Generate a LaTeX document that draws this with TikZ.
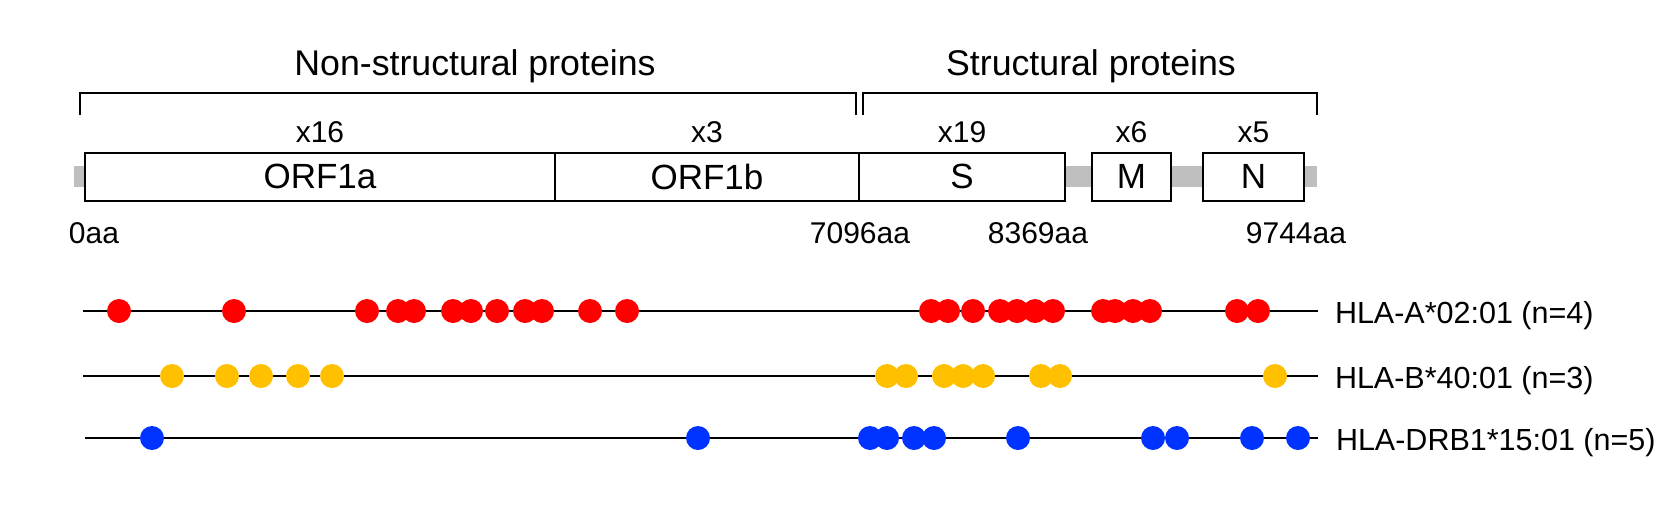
\documentclass[tikz,border=0pt]{standalone}
\usepackage{fontspec}
\setmainfont{Liberation Sans}
\definecolor{epired}{RGB}{255,0,0}
\definecolor{epiyellow}{RGB}{255,192,0}
\definecolor{epiblue}{RGB}{0,51,255}
\definecolor{backbone}{RGB}{191,191,191}

\begin{document}
\begin{tikzpicture}[x=1pt,y=-1pt,line width=2pt]
    \tikzstyle{gene}=[rectangle,draw,fill=white,inner sep=0pt,minimum height=48pt,font=\fontsize{35}{42}\selectfont]
    \tikzstyle{group}=[anchor=base,font=\fontsize{35.7}{42}\selectfont]
    \tikzstyle{count}=[anchor=base,font=\fontsize{30}{36}\selectfont]
    \tikzstyle{allele}=[anchor=base west,inner sep=0pt,font=\fontsize{30.5}{36}\selectfont]
    \useasboundingbox (0,0) rectangle (1655,531);
    \node (nsp) at (475,75) [group] {Non-structural proteins};
    \node (sp) at (1091,75) [group] {Structural proteins};
    \draw (80,115) |- (856,93.3) -- (856,115);
    \draw (863,115) |- (1317,93.3) -- (1317,115);
    \coordinate (start) at (74,176.5);
    \coordinate (stop) at (1317,176.5);
    \draw [backbone,line width=21pt] (start) -- (stop);
    \node (orf1a) at (320,176.5) [gene,minimum width=470pt] {ORF1a};
    \node (orf1b) at (707,176.5) [gene,minimum width=304pt] {ORF1b};
    \node (spike) at (962,176.5) [gene,minimum width=206pt] {S};
    \node (memb) at (1131.5,176.5) [gene,minimum width=79pt] {M};
    \node (nucl) at (1253.5,176.5) [gene,minimum width=101pt] {N};
    \node (c1a) at (320,142.7) [count] {x16};
    \node (c1b) at (707,142.7) [count] {x3};
    \node (cs) at (962,142.7) [count] {x19};
    \node (cm) at (1131.5,142.7) [count] {x6};
    \node (cn) at (1253.5,142.7) [count] {x5};
    \node (p0) at (94,243) [count] {0aa};
    \node (p7096) at (860,243) [count] {7096aa};
    \node (p8369) at (1038,243) [count] {8369aa};
    \node (p9744) at (1296,243) [count] {9744aa};
    \coordinate (a0) at (83,311);
    \coordinate (a1) at (1318,311);
    \coordinate (b0) at (83,376);
    \coordinate (b1) at (1318,376);
    \coordinate (r0) at (85,438);
    \coordinate (r1) at (1318,438);
    \draw (a0) -- (a1);
    \draw (b0) -- (b1);
    \draw (r0) -- (r1);
    \foreach \x in {119,234,367,398,414,453,471,497,525,542,590,627,931,948,973,1000,1017,1035,1053,1103,1115,1133,1150,1237,1258}
        \fill [epired] (\x,311) circle (12pt);
    \foreach \x in {172,227,261,298,332,887,906,944,963,983,1041,1060,1275}
        \fill [epiyellow] (\x,376) circle (12pt);
    \foreach \x in {152,698,870,887,914,934,1018,1153,1177,1252,1298}
        \fill [epiblue] (\x,438) circle (12pt);
    \node (hlaA) at (1334,323) [allele] {HLA-A*02:01 (n=4)};
    \node (hlaB) at (1334,388) [allele] {HLA-B*40:01 (n=3)};
    \node (hlaDR) at (1335,450) [allele] {HLA-DRB1*15:01 (n=5)};
\end{tikzpicture}
\end{document}
